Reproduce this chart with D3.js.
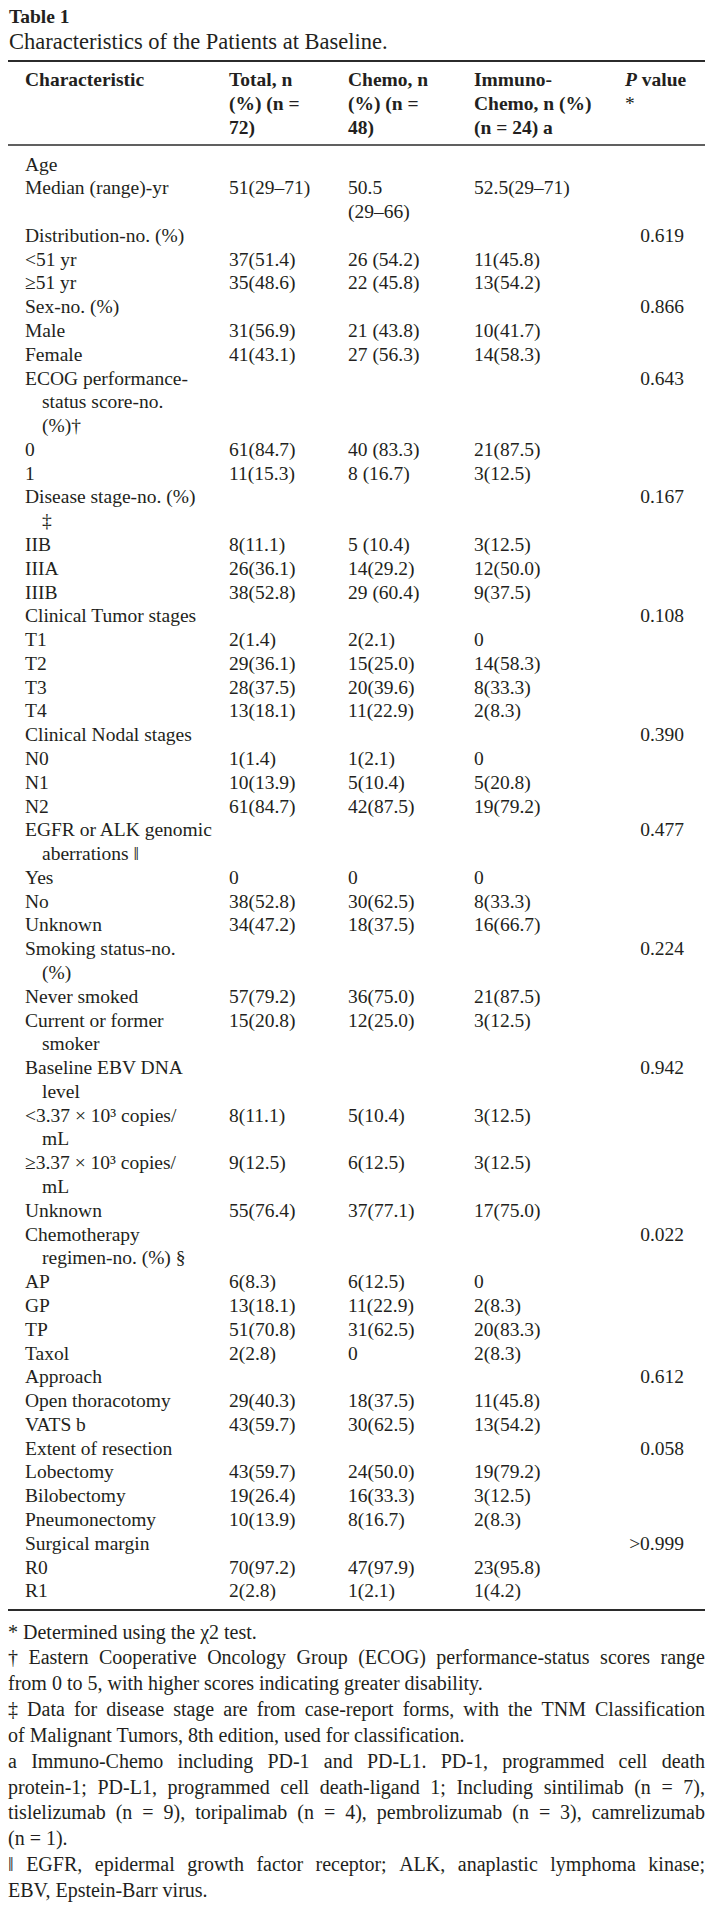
<!DOCTYPE html>
<html><head><meta charset="utf-8">
<script src="https://cdn.jsdelivr.net/npm/d3@7"></script>
<style>html,body{margin:0;padding:0;background:#fff}svg{display:block}</style>
</head><body>
<script>
const tableTitle = "Table 1";
const tableSubtitle = "Characteristics of the Patients at Baseline.";
const headerLabels = ["Characteristic", "Total, n\n(%) (n =\n72)", "Chemo, n\n(%) (n =\n48)", "Immuno-\nChemo, n (%)\n(n = 24) a", "P value\n*"];
const categories = [
 "Age","Median (range)-yr","Distribution-no. (%)","<51 yr","≥51 yr","Sex-no. (%)","Male","Female",
 "ECOG performance-\nstatus score-no.\n(%)†","0","1","Disease stage-no. (%)\n‡","IIB","IIIA","IIIB",
 "Clinical Tumor stages","T1","T2","T3","T4","Clinical Nodal stages","N0","N1","N2",
 "EGFR or ALK genomic\naberrations ‖","Yes","No","Unknown","Smoking status-no.\n(%)","Never smoked","Current or former\nsmoker",
 "Baseline EBV DNA\nlevel","<3.37 × 10³ copies/\nmL","≥3.37 × 10³ copies/\nmL","Unknown",
 "Chemotherapy\nregimen-no. (%) §","AP","GP","TP","Taxol","Approach","Open thoracotomy","VATS b",
 "Extent of resection","Lobectomy","Bilobectomy","Pneumonectomy","Surgical margin","R0","R1"];
const totalValues = ["","51(29–71)","","37(51.4)","35(48.6)","","31(56.9)","41(43.1)","","61(84.7)","11(15.3)","","8(11.1)","26(36.1)","38(52.8)",
 "","2(1.4)","29(36.1)","28(37.5)","13(18.1)","","1(1.4)","10(13.9)","61(84.7)","","0","38(52.8)","34(47.2)","","57(79.2)","15(20.8)",
 "","8(11.1)","9(12.5)","55(76.4)","","6(8.3)","13(18.1)","51(70.8)","2(2.8)","","29(40.3)","43(59.7)","","43(59.7)","19(26.4)","10(13.9)","","70(97.2)","2(2.8)"];
const chemoValues = ["","50.5\n(29–66)","","26 (54.2)","22 (45.8)","","21 (43.8)","27 (56.3)","","40 (83.3)","8 (16.7)","","5 (10.4)","14(29.2)","29 (60.4)",
 "","2(2.1)","15(25.0)","20(39.6)","11(22.9)","","1(2.1)","5(10.4)","42(87.5)","","0","30(62.5)","18(37.5)","","36(75.0)","12(25.0)",
 "","5(10.4)","6(12.5)","37(77.1)","","6(12.5)","11(22.9)","31(62.5)","0","","18(37.5)","30(62.5)","","24(50.0)","16(33.3)","8(16.7)","","47(97.9)","1(2.1)"];
const immunoValues = ["","52.5(29–71)","","11(45.8)","13(54.2)","","10(41.7)","14(58.3)","","21(87.5)","3(12.5)","","3(12.5)","12(50.0)","9(37.5)",
 "","0","14(58.3)","8(33.3)","2(8.3)","","0","5(20.8)","19(79.2)","","0","8(33.3)","16(66.7)","","21(87.5)","3(12.5)",
 "","3(12.5)","3(12.5)","17(75.0)","","0","2(8.3)","20(83.3)","2(8.3)","","11(45.8)","13(54.2)","","19(79.2)","3(12.5)","2(8.3)","","23(95.8)","1(4.2)"];
const pValues = ["","","0.619","","","0.866","","","0.643","","","0.167","","","",
 "0.108","","","","","0.390","","","","0.477","","","","0.224","","",
 "0.942","","","","0.022","","","","","0.612","","","0.058","","","",">0.999","",""];
const footnotes = [
 ["* Determined using the χ2 test."],
 ["† Eastern Cooperative Oncology Group (ECOG) performance-status scores range","from 0 to 5, with higher scores indicating greater disability."],
 ["‡ Data for disease stage are from case-report forms, with the TNM Classification","of Malignant Tumors, 8th edition, used for classification."],
 ["a Immuno-Chemo including PD-1 and PD-L1. PD-1, programmed cell death","protein-1; PD-L1, programmed cell death-ligand 1; Including sintilimab (n = 7),","tislelizumab (n = 9), toripalimab (n = 4), pembrolizumab (n = 3), camrelizumab","(n = 1)."],
 ["‖ EGFR, epidermal growth factor receptor; ALK, anaplastic lymphoma kinase;","EBV, Epstein-Barr virus."]
];

const W = 714, H = 1916;
const FONT = "'Liberation Serif', 'Times New Roman', serif";
const INK = "#231f20";
const bodySize = 19.5, footSize = 20.0, lineH = 23.78, footLineH = 25.85;
const left = 8, right = 705;

const svg = d3.select("body").append("svg").attr("width", W).attr("height", H)
  .style("font-family", FONT).style("fill", INK);
svg.append("rect").attr("width", W).attr("height", H).attr("fill", "#fff");

svg.append("text").attr("x", 9).attr("y", 23).attr("font-size", 19.5).attr("font-weight", "bold").text(tableTitle);
svg.append("text").attr("x", 9).attr("y", 49).attr("font-size", 22.5).text(tableSubtitle);

const colKeys = ["label","total","chemo","immuno","p"];
const x = d3.scaleOrdinal().domain(colKeys).range([25, 229, 348, 474, 684]);

const rule = (y, w) => svg.append("line").attr("x1", left).attr("x2", right).attr("y1", y).attr("y2", y)
  .attr("stroke", "#2b2b2b").attr("stroke-width", w);
rule(61, 2.2); rule(145, 1.6); rule(1610, 2.2);

const hy = d3.scaleLinear().domain([0, 2]).range([86, 133.5]);
headerLabels.forEach((h, ci) => {
  const lines = h.split("\n");
  lines.forEach((ln, li) => {
    const t = svg.append("text").attr("x", ci === 4 ? 625 : x(colKeys[ci])).attr("y", hy(li))
      .attr("font-size", bodySize).attr("font-weight", "bold");
    if (ci === 4 && li === 0) {
      t.append("tspan").attr("font-style", "italic").text("P");
      t.append("tspan").text(" value");
    } else if (ci === 4) {
      t.attr("font-weight", "normal").text(ln);
    } else t.text(ln);
  });
});

const rows = categories.map((c, i) => ({
  label: c.split("\n"), total: totalValues[i].split("\n"), chemo: chemoValues[i].split("\n"),
  immuno: immunoValues[i].split("\n"), p: pValues[i].split("\n")
}));
let idx = 0;
rows.forEach(r => { r.start = idx; idx += d3.max(colKeys, k => r[k].length); });
const totalLines = idx;
const y = d3.scaleLinear().domain([0, totalLines - 1]).range([170.5, 170.5 + lineH * (totalLines - 1)]);

rows.forEach(r => {
  colKeys.forEach(k => {
    r[k].forEach((ln, li) => {
      if (!ln) return;
      const xx = k === "label" && li > 0 ? x(k) + 17 : x(k);
      svg.append("text").attr("x", xx).attr("y", y(r.start + li))
        .attr("font-size", bodySize)
        .attr("text-anchor", k === "p" ? "end" : "start")
        .text(ln);
    });
  });
});

const fy = d3.scaleLinear().domain([0, 10]).range([1638.5, 1638.5 + footLineH * 10]);
let fi = 0;
footnotes.forEach(par => {
  par.forEach((ln, li) => {
    const last = li === par.length - 1;
    const yy = fy(fi++);
    if (last) {
      svg.append("text").attr("x", left).attr("y", yy).attr("font-size", footSize).text(ln);
      return;
    }
    const words = ln.split(" ");
    const g = svg.append("g");
    const nodes = words.map(w => g.append("text").attr("y", yy).attr("font-size", footSize).text(w));
    const widths = nodes.map(n => n.node().getComputedTextLength());
    const sum = d3.sum(widths);
    const gap = (right - left - sum) / (words.length - 1);
    if (gap < 2.5) {
      g.remove();
      svg.append("text").attr("x", left).attr("y", yy).attr("font-size", footSize)
        .attr("textLength", right - left).attr("lengthAdjust", "spacingAndGlyphs").text(ln);
      return;
    }
    let cx = left;
    nodes.forEach((n, i) => { n.attr("x", cx); cx += widths[i] + gap; });
  });
});
</script>
</body></html>
